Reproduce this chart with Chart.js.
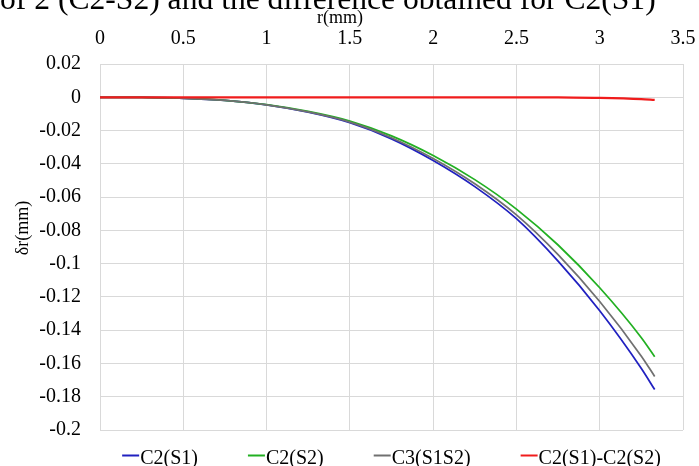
<!DOCTYPE html>
<html>
<head>
<meta charset="utf-8">
<script src="https://cdn.jsdelivr.net/npm/chart.js@4"></script>
<style>
  html, body { margin: 0; padding: 0; background: #fff; overflow: hidden; }
  #wrap { position: relative; width: 699px; height: 466px; }
  #caption { position: absolute; left: 0; top: -17px; font-family: "Liberation Serif", "Times New Roman", serif; font-size: 31.6px; line-height: 1; white-space: nowrap; color: #000; }
  canvas { position: absolute; left: 0; top: 0; }
</style>
</head>
<body>
<div id="wrap">
  <canvas id="c" width="699" height="466"></canvas>
  <div id="caption">of 2 (C2-S2) and the difference obtained for C2(S1)</div>
</div>
<script>
const rVals = [0, 0.25, 0.5, 0.75, 1, 1.25, 1.5, 1.75, 2, 2.25, 2.5, 2.75, 3, 3.25, 3.33];
const c2s1 = [0, -0.0001, -0.0006, -0.0019, -0.0046, -0.0090, -0.0153, -0.0250, -0.0380, -0.0537, -0.0730, -0.0985, -0.1283, -0.1630, -0.1757];
const c2s2 = [0, -0.0001, -0.0005, -0.0018, -0.0044, -0.0085, -0.0143, -0.0232, -0.0350, -0.0495, -0.0672, -0.0888, -0.1145, -0.1445, -0.1559];
const c3s1s2 = [0, -0.0001, -0.0006, -0.0019, -0.0045, -0.0088, -0.0149, -0.0243, -0.0368, -0.0520, -0.0707, -0.0946, -0.1228, -0.1556, -0.1678];
const diffS1S2 = [0, 0, 0, 0, 0, 0, 0, 0, 0, 0, 0, 0, -0.0004, -0.0011, -0.0015];
const seriesNames = ['C2(S1)', 'C2(S2)', 'C3(S1S2)', 'C2(S1)-C2(S2)'];
const xTitle = 'r(mm)';
const yTitle = 'δr(mm)';

const FONT = '"Liberation Serif", "Times New Roman", serif';
const colors = ['#2020c0', '#22b022', '#707070', '#f01c1c'];
const widths = [1.75, 1.75, 1.75, 2.25];
const orders = [3, 2, 1, 0];
const allSeries = [c2s1, c2s2, c3s1s2, diffS1S2];

const datasets = allSeries.map((vals, i) => ({
  label: seriesNames[i],
  data: rVals.map((r, j) => ({ x: r, y: vals[j] })),
  borderColor: colors[i],
  backgroundColor: colors[i],
  borderWidth: widths[i],
  pointRadius: 0,
  fill: false,
  cubicInterpolationMode: 'monotone',
  order: orders[i]
}));

const extras = {
  id: 'extras',
  afterDraw(chart) {
    const ctx = chart.ctx;
    const area = chart.chartArea;
    ctx.save();
    ctx.fillStyle = '#000';
    ctx.font = '18px ' + FONT;
    ctx.textAlign = 'center';
    ctx.textBaseline = 'alphabetic';
    ctx.fillText(xTitle, 340, 23);
    ctx.save();
    ctx.translate(28, 228);
    ctx.rotate(-Math.PI / 2);
    ctx.font = '18px ' + FONT;
    ctx.textAlign = 'center';
    ctx.fillText(yTitle, 0, 0);
    ctx.restore();
    ctx.font = '20px ' + FONT;
    const lineLen = 17, gapText = 1, gapItem = 50;
    const items = chart.data.datasets.map(d => ({ label: d.label, color: d.borderColor, w: ctx.measureText(d.label).width }));
    let total = 0;
    items.forEach((it, i) => { total += lineLen + gapText + it.w + (i < items.length - 1 ? gapItem : 0); });
    let x = (area.left + area.right) / 2 - total / 2;
    const yLine = 455.5, yText = 464;
    ctx.textAlign = 'left';
    items.forEach(it => {
      ctx.strokeStyle = it.color;
      ctx.lineWidth = 2;
      ctx.beginPath();
      ctx.moveTo(x, yLine);
      ctx.lineTo(x + lineLen, yLine);
      ctx.stroke();
      ctx.fillStyle = '#000';
      ctx.fillText(it.label, x + lineLen + gapText, yText);
      x += lineLen + gapText + it.w + gapItem;
    });
    ctx.restore();
  }
};

const fmt = v => String(Number(Number(v).toFixed(3)));

new Chart(document.getElementById('c'), {
  type: 'line',
  data: { datasets },
  options: {
    responsive: false,
    animation: false,
    layout: { padding: { left: 0, right: 16, top: 0, bottom: 36 } },
    plugins: { legend: { display: false }, tooltip: { enabled: false } },
    scales: {
      x: {
        type: 'linear', position: 'top', min: 0, max: 3.5,
        ticks: { stepSize: 0.5, padding: 13, color: '#000', font: { family: FONT, size: 20 }, maxRotation: 0, autoSkip: false, callback: fmt },
        grid: { color: '#d9d9d9', drawTicks: false, lineWidth: 1 },
        border: { color: '#d9d9d9' },
        afterFit(s) { s.height = 64; s.paddingLeft = 0; s.paddingRight = 0; }
      },
      y: {
        type: 'linear', min: -0.2, max: 0.02,
        ticks: { stepSize: 0.02, padding: 19, color: '#000', font: { family: FONT, size: 20 }, autoSkip: false, callback: fmt },
        grid: { color: '#d9d9d9', drawTicks: false, lineWidth: 1 },
        border: { color: '#d9d9d9' },
        afterFit(s) { s.width = 100; s.paddingTop = 0; s.paddingBottom = 0; }
      }
    }
  },
  plugins: [extras]
});
</script>
</body>
</html>
